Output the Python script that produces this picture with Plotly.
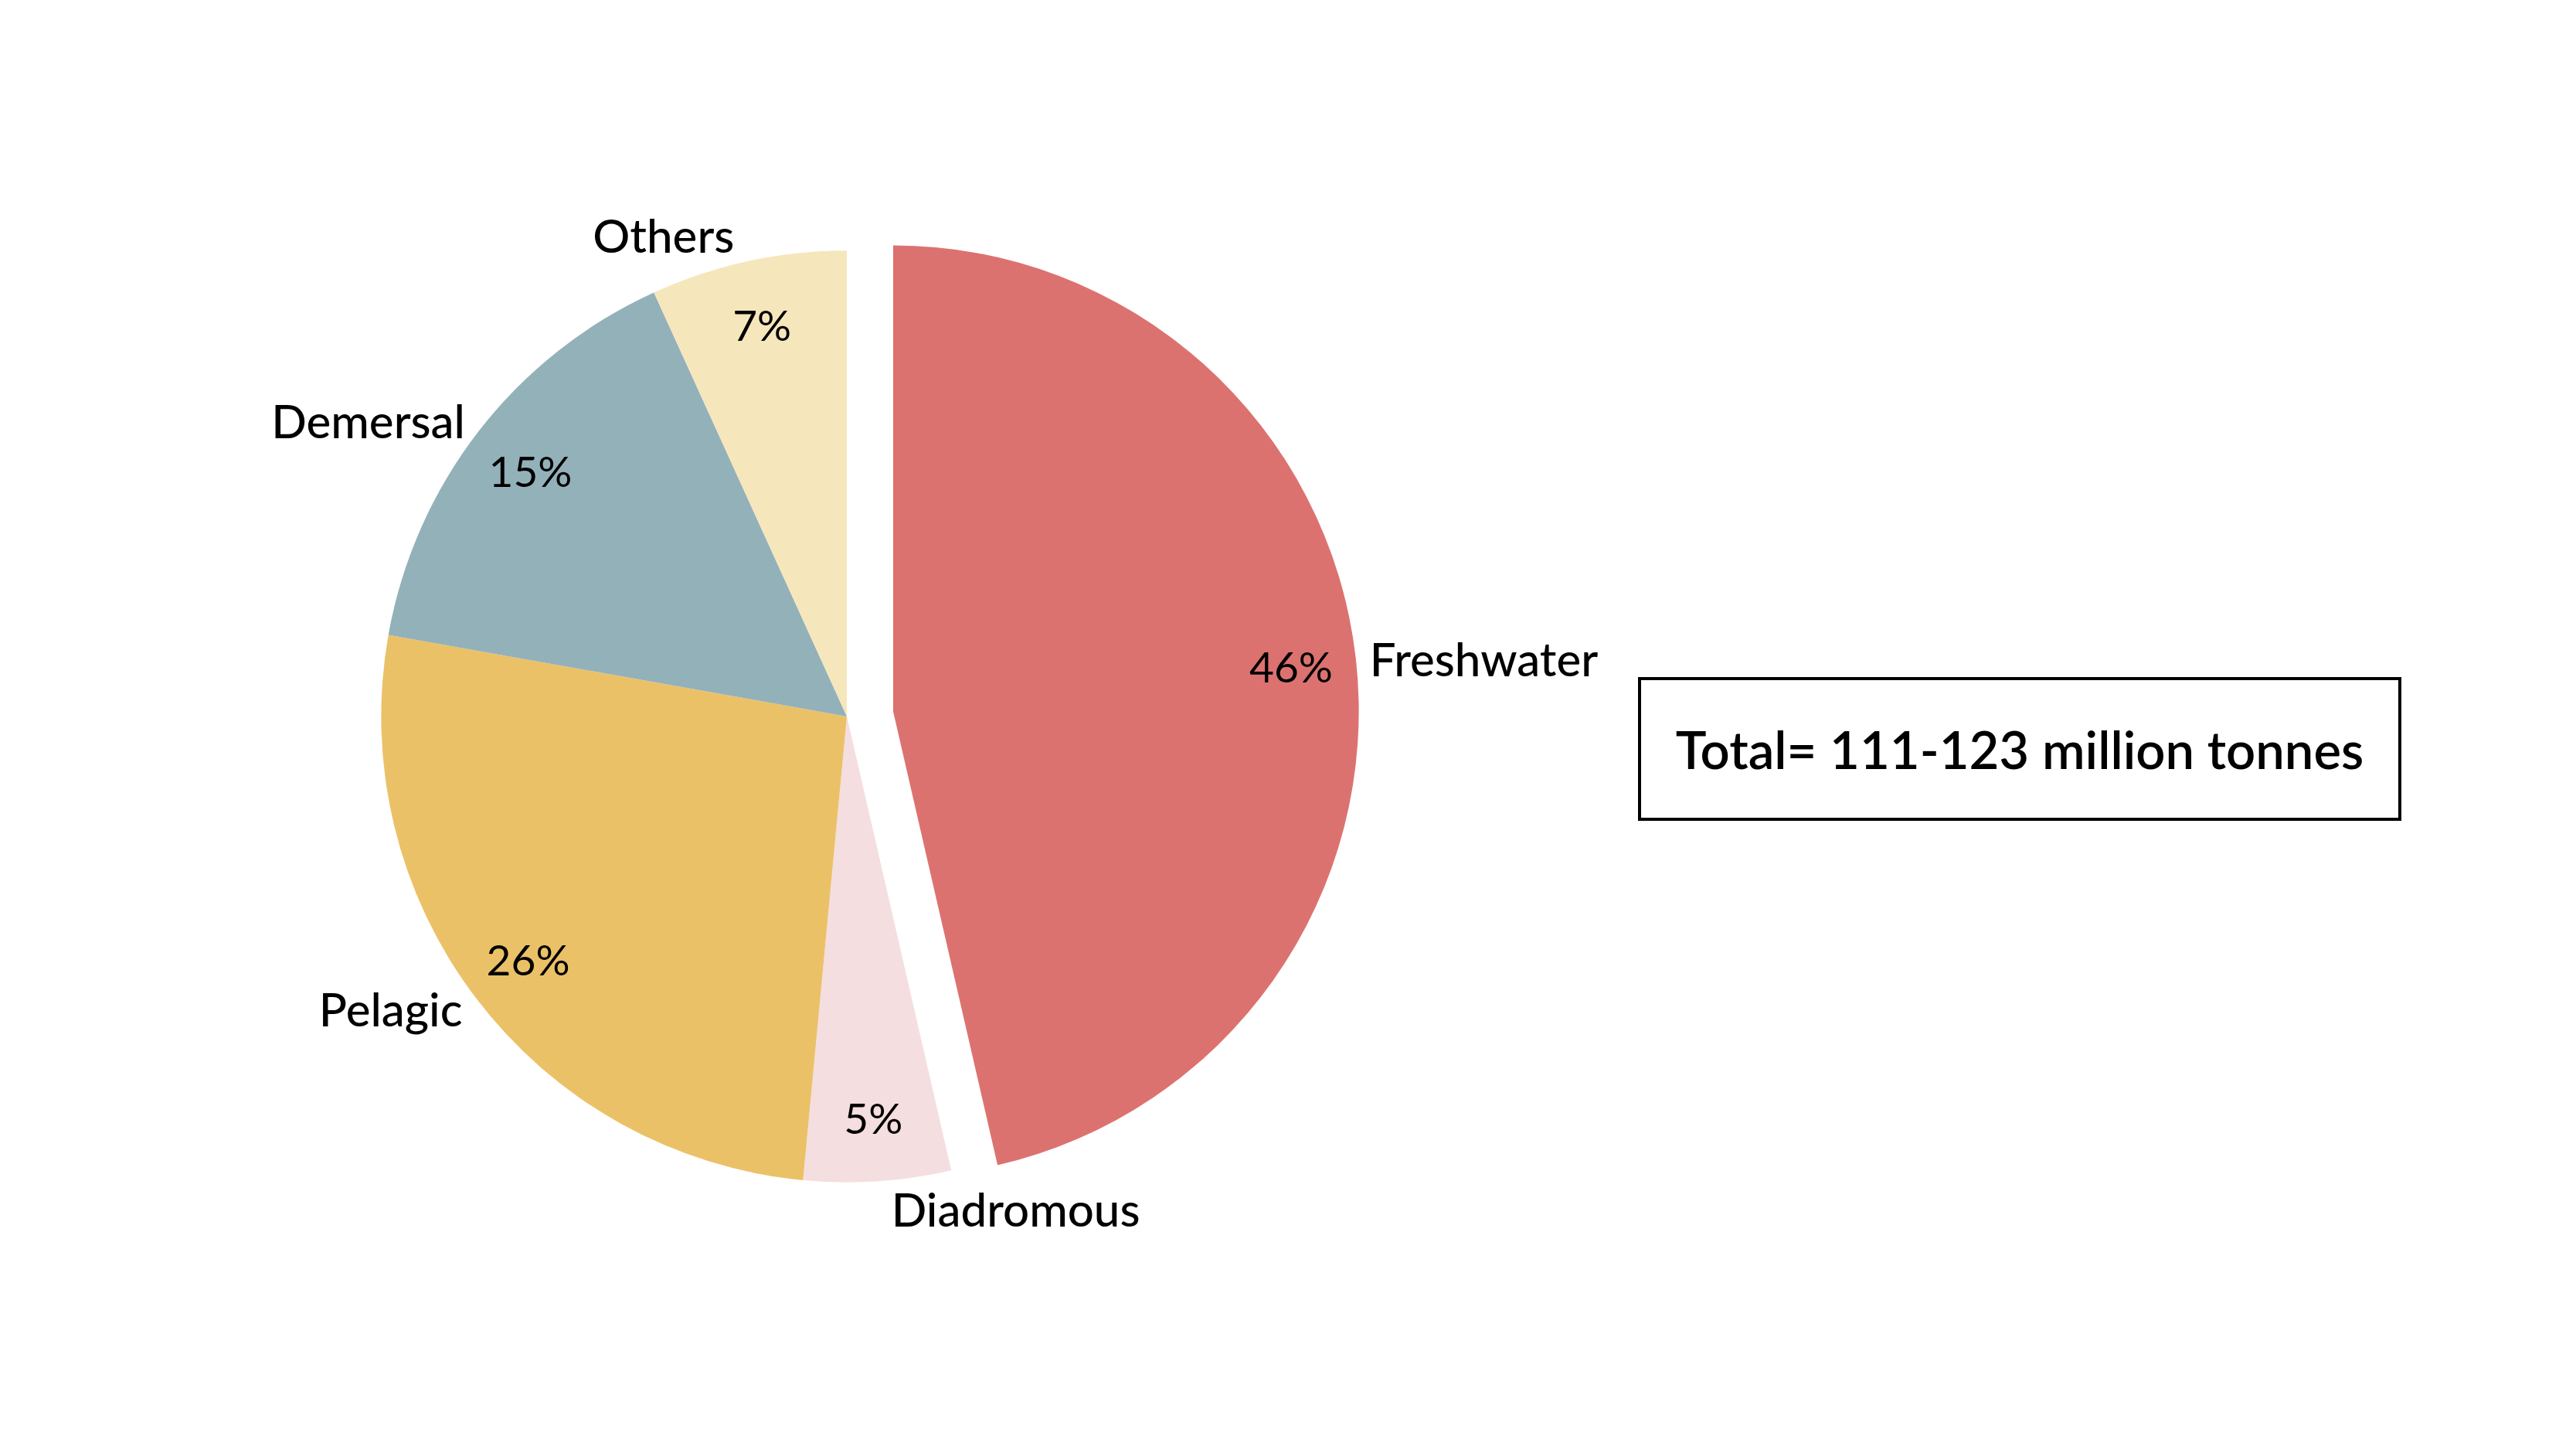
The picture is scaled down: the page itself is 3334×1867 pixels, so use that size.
import plotly.graph_objects as go

# Aquaculture production by species group (share of total)
categories = ["Freshwater", "Diadromous", "Pelagic", "Demersal", "Others"]
values = [46.4, 5.1, 26.3, 15.4, 6.8]
pull = [0.1, 0, 0, 0, 0]
total_label = "Total= 111-123 million tonnes"

COLORS = ["#dc7270", "#f4dedf", "#ebc168", "#93b1b9", "#f6e6bc"]
FONT = "Lato, Inter, sans-serif"

W, H = 3334, 1867
domain = dict(x=[0.1275, 0.5252], y=[0.1527, 0.8629])

fig = go.Figure()

# coloured slices with category names outside
fig.add_trace(go.Pie(
    labels=categories,
    values=values,
    sort=False,
    direction="clockwise",
    rotation=0,
    pull=pull,
    marker=dict(colors=COLORS, line=dict(width=0)),
    textinfo="label",
    textposition="outside",
    outsidetextfont=dict(family=FONT, size=60, color="#000000", weight=500),
    domain=domain,
    showlegend=False,
    hoverinfo="skip",
))

# transparent ring carrying the percentages near the rim
fig.add_trace(go.Pie(
    labels=categories,
    values=values,
    sort=False,
    direction="clockwise",
    rotation=0,
    pull=pull,
    hole=0.72,
    marker=dict(colors=["rgba(0,0,0,0)"] * len(values), line=dict(width=0)),
    texttemplate="%{percent:.0%}",
    textposition="inside",
    insidetextorientation="horizontal",
    insidetextfont=dict(family=FONT, size=55, color="#000000"),
    domain=domain,
    showlegend=False,
    hoverinfo="skip",
))

fig.add_annotation(
    text=total_label,
    xref="paper", yref="paper",
    x=0.7816, y=0.4854,
    xanchor="center", yanchor="middle",
    showarrow=False,
    width=980, height=178,
    align="center", valign="middle",
    bordercolor="#000000", borderwidth=4, borderpad=0,
    font=dict(family=FONT, size=67, color="#000000", weight=600),
)

fig.update_layout(
    width=W, height=H,
    paper_bgcolor="#ffffff",
    plot_bgcolor="#ffffff",
    margin=dict(l=0, r=0, t=0, b=0),
)

fig.write_html("out.html")
